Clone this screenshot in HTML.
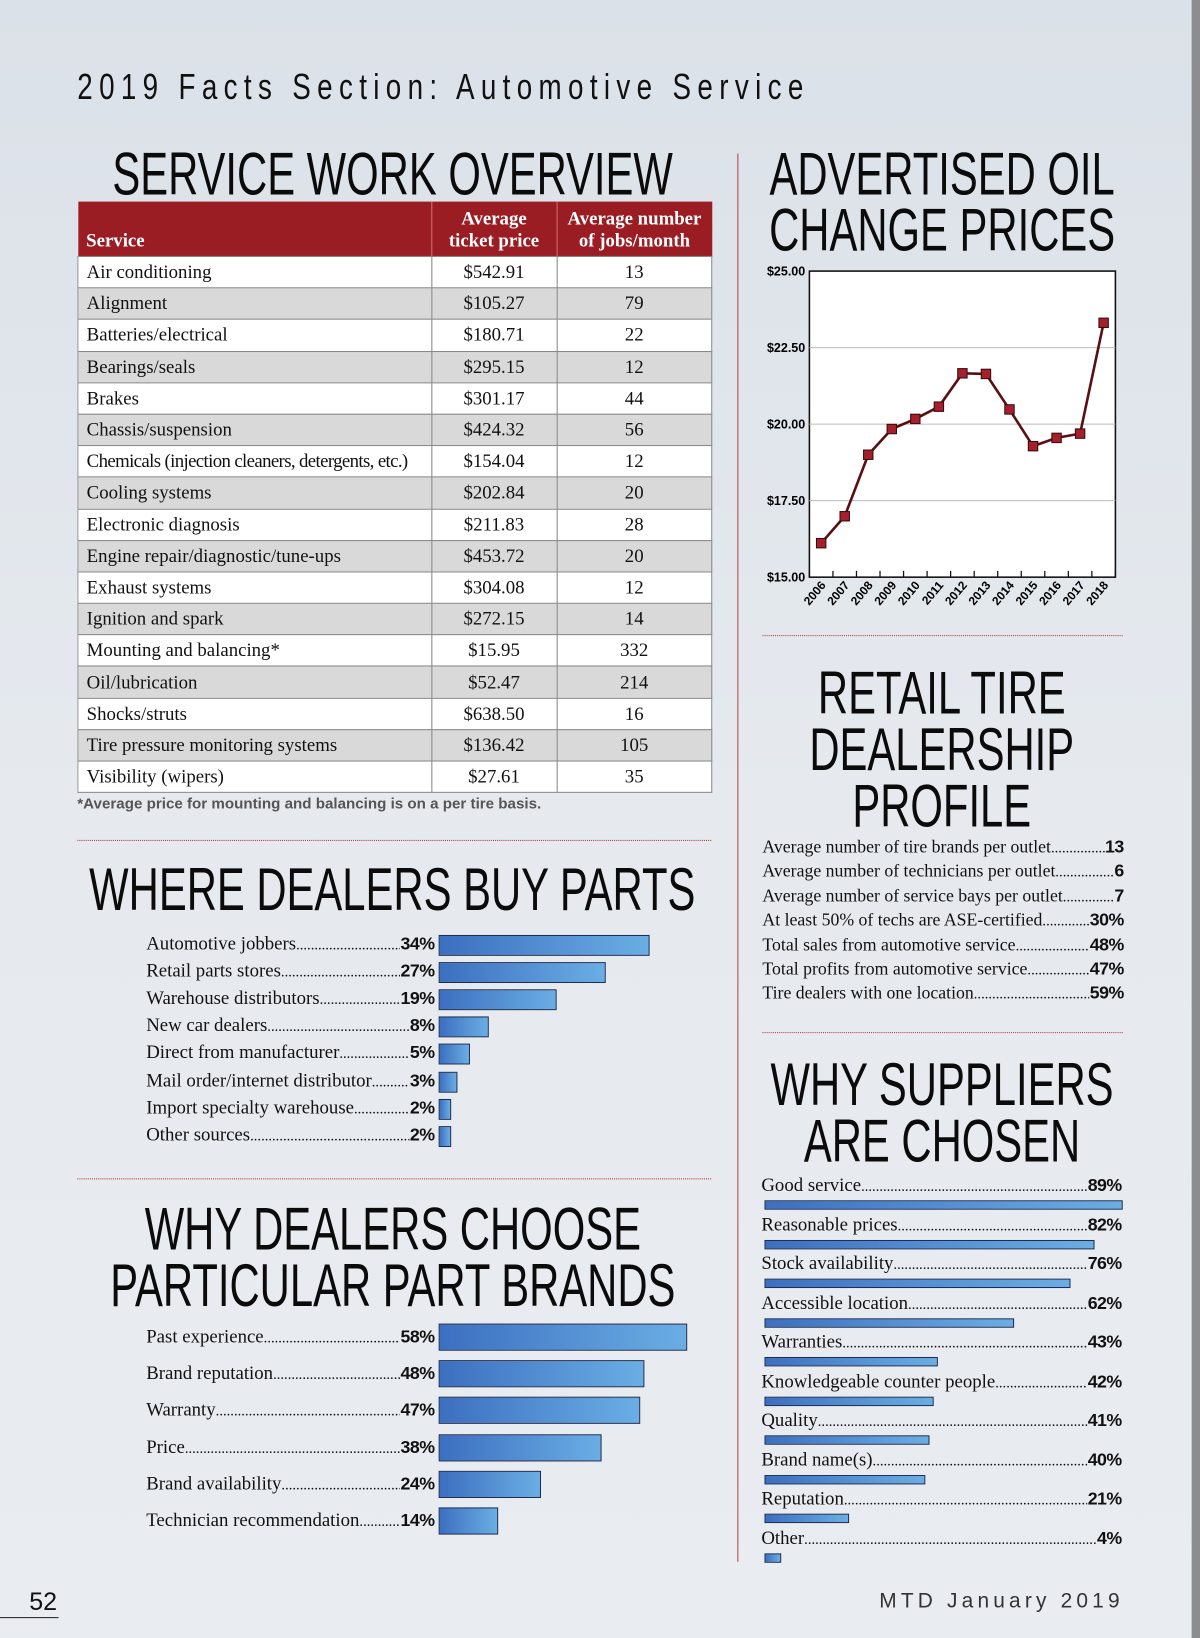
<!DOCTYPE html>
<html><head><meta charset="utf-8">
<style>
html,body{margin:0;padding:0;width:1200px;height:1638px;overflow:hidden;}
body{background:#dfe4ea;}
#page{position:absolute;left:0;top:0;width:1149px;height:1568px;transform:scale(1.04439,1.04464);transform-origin:0 0;
 background:linear-gradient(180deg,#dbe1e8 0%,#e6eaef 50%,#e9ecf0 100%);font-family:"Liberation Serif",serif;color:#111;}
.abs{position:absolute;}
.h{position:absolute;text-align:center;white-space:nowrap;}
.h span{display:inline-block;font-family:"Liberation Sans",sans-serif;font-size:58px;line-height:54px;color:#0b0b0b;transform:scaleX(0.69);transform-origin:center top;}
table{border-collapse:collapse;position:absolute;left:74px;top:193px;width:608px;font-size:18px;}
th{background:#9b1d24;color:#fff;font-weight:bold;font-size:18px;line-height:21px;padding:0 8px 4px;border-right:1px solid #c66;vertical-align:bottom;height:48px;}
td{border:1px solid #888;height:29.2px;padding:0 8px;line-height:29px;}
tr:nth-child(odd) td{background:#d9d9d9;}
tr:nth-child(even) td{background:#fff;}
td.c{text-align:center;}
.sep{position:absolute;border-top:1px dotted #a33;height:0;}
.row{position:absolute;display:flex;align-items:baseline;white-space:nowrap;}
.lead{flex:1;overflow:hidden;white-space:nowrap;font-size:14px;}
.val{font-family:"Liberation Sans",sans-serif;font-weight:bold;font-size:17px;letter-spacing:-0.5px;}
.bar{position:absolute;border:1.5px solid #1d2e55;background:linear-gradient(90deg,#3c6fc0,#6aaee4);box-sizing:border-box;}
</style></head><body>
<div id="page">
<div class="abs" style="left:1141px;top:0;width:8px;height:1568px;background:#8b8d90;"></div>
<div class="abs" style="left:74px;top:64px;font-family:'Liberation Sans',sans-serif;font-size:35px;letter-spacing:8px;white-space:nowrap;transform:scaleX(0.76);transform-origin:left top;">2019 Facts Section: Automotive Service</div>
<div class="abs" style="left:706px;top:147px;width:0;height:1348px;border-left:1px solid #b44;"></div>

<div class="h" style="left:-200px;width:1152px;top:140px;"><span>SERVICE WORK OVERVIEW</span></div>
<table>
<tr><th style="text-align:left;width:322px;">Service</th><th style="width:103px;">Average<br>ticket price</th><th style="border-right:none;">Average number<br>of jobs/month</th></tr>
<tr><td>Air conditioning</td><td class="c">$542.91</td><td class="c">13</td></tr>
<tr><td>Alignment</td><td class="c">$105.27</td><td class="c">79</td></tr>
<tr><td>Batteries/electrical</td><td class="c">$180.71</td><td class="c">22</td></tr>
<tr><td>Bearings/seals</td><td class="c">$295.15</td><td class="c">12</td></tr>
<tr><td>Brakes</td><td class="c">$301.17</td><td class="c">44</td></tr>
<tr><td>Chassis/suspension</td><td class="c">$424.32</td><td class="c">56</td></tr>
<tr><td style="letter-spacing:-0.6px;">Chemicals (injection cleaners, detergents, etc.)</td><td class="c">$154.04</td><td class="c">12</td></tr>
<tr><td>Cooling systems</td><td class="c">$202.84</td><td class="c">20</td></tr>
<tr><td>Electronic diagnosis</td><td class="c">$211.83</td><td class="c">28</td></tr>
<tr><td>Engine repair/diagnostic/tune-ups</td><td class="c">$453.72</td><td class="c">20</td></tr>
<tr><td>Exhaust systems</td><td class="c">$304.08</td><td class="c">12</td></tr>
<tr><td>Ignition and spark</td><td class="c">$272.15</td><td class="c">14</td></tr>
<tr><td>Mounting and balancing*</td><td class="c">$15.95</td><td class="c">332</td></tr>
<tr><td>Oil/lubrication</td><td class="c">$52.47</td><td class="c">214</td></tr>
<tr><td>Shocks/struts</td><td class="c">$638.50</td><td class="c">16</td></tr>
<tr><td>Tire pressure monitoring systems</td><td class="c">$136.42</td><td class="c">105</td></tr>
<tr><td>Visibility (wipers)</td><td class="c">$27.61</td><td class="c">35</td></tr>
</table>
<div class="abs" style="left:74px;top:762px;font-family:'Liberation Sans',sans-serif;font-weight:bold;font-size:14.5px;color:#555;">*Average price for mounting and balancing is on a per tire basis.</div>
<div class="sep" style="left:74px;top:804px;width:607px;"></div>

<div class="h" style="left:-200px;width:1152px;top:825px;"><span>WHERE DEALERS BUY PARTS</span></div>
<div id="parts"></div>
<div class="sep" style="left:74px;top:1128px;width:607px;"></div>

<div class="h" style="left:-200px;width:1152px;top:1150px;"><span>WHY DEALERS CHOOSE<br>PARTICULAR PART BRANDS</span></div>
<div id="brands"></div>

<div class="h" style="left:502px;width:800px;top:140px;"><span>ADVERTISED OIL<br>CHANGE PRICES</span></div>
<svg id="oil" class="abs" style="left:720px;top:245px;" width="370" height="350"></svg>
<div class="sep" style="left:730px;top:608px;width:345px;"></div>

<div class="h" style="left:502px;width:800px;top:637px;"><span>RETAIL TIRE<br>DEALERSHIP<br>PROFILE</span></div>
<div id="profile"></div>
<div class="sep" style="left:730px;top:988px;width:345px;"></div>

<div class="h" style="left:502px;width:800px;top:1012px;"><span>WHY SUPPLIERS<br>ARE CHOSEN</span></div>
<div id="suppliers"></div>

<div class="abs" style="left:28px;top:1520px;font-family:'Liberation Sans',sans-serif;font-size:24px;">52</div>
<div class="abs" style="left:0;top:1548px;width:56px;border-top:1px solid #222;"></div>
<div class="abs" style="left:820px;width:256px;text-align:right;top:1522px;font-family:'Liberation Sans',sans-serif;font-size:20px;letter-spacing:4px;color:#333;">MTD January 2019</div>
</div>
<script>
const DOTS='.'.repeat(200);
const partsLabels=["Automotive jobbers","Retail parts stores","Warehouse distributors","New car dealers","Direct from manufacturer","Mail order/internet distributor","Import specialty warehouse","Other sources"];
const partsValues=[34,27,19,8,5,3,2,2];
const brandLabels=["Past experience","Brand reputation","Warranty","Price","Brand availability","Technician recommendation"];
const brandValues=[58,48,47,38,24,14];
const supLabels=["Good service","Reasonable prices","Stock availability","Accessible location","Warranties","Knowledgeable counter people","Quality","Brand name(s)","Reputation","Other"];
const supValues=[89,82,76,62,43,42,41,40,21,4];
const profLabels=["Average number of tire brands per outlet","Average number of technicians per outlet","Average number of service bays per outlet","At least 50% of techs are ASE-certified","Total sales from automotive service","Total profits from automotive service","Tire dealers with one location"];
const profValues=["13","6","7","30%","48%","47%","59%"];
const years=["2006","2007","2008","2009","2010","2011","2012","2013","2014","2015","2016","2017","2018"];
const prices=[16.11,16.99,19.0,19.84,20.17,20.57,21.66,21.64,20.48,19.28,19.55,19.69,23.31];
const yTicks=[15,17.5,20,22.5,25];

function mk(tag,parent,css,text){const e=document.createElement(tag);if(css)e.style.cssText=css;if(text!==undefined)e.textContent=text;parent.appendChild(e);return e;}
function rowEl(parent,x,y,w,label,value,fs){
  const r=mk('div',parent,`left:${x}px;top:${y}px;width:${w}px;font-size:${fs}px;`);
  r.className='row';
  
  
  mk('span',r,'',label);
  const l=mk('span',r,'',DOTS);l.className='lead';
  const v=mk('span',r,'',value);v.className='val';
  return r;
}
(function(){const p=document.getElementById('parts');
 const x0=420,ppp=5.94,y0=894,step=26.1;
 partsLabels.forEach((lab,i)=>{const y=y0+i*step;
  rowEl(p,140,y-1,276,lab,partsValues[i]+'%',18);
  const b=mk('div',p,`left:${x0}px;top:${y+1}px;width:${partsValues[i]*ppp}px;height:20px;`);b.className='bar';
  
  
 });})();
(function(){const p=document.getElementById('brands');
 const x0=420,ppp=4.1,y0=1267,step=35.2;
 brandLabels.forEach((lab,i)=>{const y=y0+i*step;
  rowEl(p,140,y+2,276,lab,brandValues[i]+'%',18);
  const b=mk('div',p,`left:${x0}px;top:${y}px;width:${brandValues[i]*ppp}px;height:26px;`);b.className='bar';
  
  
 });})();
(function(){const p=document.getElementById('suppliers');
 const x0=732,ppp=3.85,y0=1124,step=37.5;
 supLabels.forEach((lab,i)=>{const y=y0+i*step;
  rowEl(p,729,y,345,lab,supValues[i]+'%',18);
  const b=mk('div',p,`left:${x0}px;top:${y+25}px;width:${Math.max(supValues[i]*ppp,16)}px;height:9px;border-width:1px;`);b.className='bar';
  
  
 });})();
(function(){const p=document.getElementById('profile');
 profLabels.forEach((lab,i)=>{rowEl(p,730,801+i*23.4,346,lab,profValues[i],17);});})();
(function(){const s=document.getElementById('oil'),NS='http://www.w3.org/2000/svg';
 const ox=720,oy=245,L=775-ox,R=1068-ox,T=259.5-oy,B=552.5-oy;
 const y=v=>B-(v-15)/10*(B-T);
 const band=(R-L)/years.length;const x=i=>L+band*(i+0.5);
 function el(t,a,txt){const e=document.createElementNS(NS,t);for(const k in a)e.setAttribute(k,a[k]);if(txt!==undefined)e.textContent=txt;s.appendChild(e);return e;}
 const bg=el('rect',{x:L,y:T,width:R-L,height:B-T,fill:'#fff',stroke:'#111','stroke-width':1.5});
 
 yTicks.forEach(v=>{
  if(v>15&&v<25){const g=el('line',{x1:L,x2:R,y1:y(v),y2:y(v),stroke:'#bbb','stroke-width':1});}
  const t=el('text',{x:L-4,y:y(v)+4,'text-anchor':'end','font-family':'Liberation Sans, sans-serif','font-weight':'bold','font-size':12},'$'+v.toFixed(2));
  
 });
 for(let i=0;i<=years.length;i++){const tk=el('line',{x1:L+band*i,x2:L+band*i,y1:B,y2:B-6,stroke:'#111','stroke-width':1.2});}
 years.forEach((yr,i)=>{const t=el('text',{x:0,y:0,transform:`translate(${x(i)+5},${B+8}) rotate(-50)`,'text-anchor':'end','font-family':'Liberation Sans, sans-serif','font-weight':'bold','font-size':11.5},yr);
  });
 const ln=el('polyline',{points:prices.map((v,i)=>x(i)+','+y(v)).join(' '),fill:'none',stroke:'#5a0f12','stroke-width':2.5});
 
 prices.forEach((v,i)=>{const m=el('rect',{x:x(i)-4.5,y:y(v)-4.5,width:9,height:9,fill:'#a3202c',stroke:'#3a0a0c','stroke-width':1});
  });
})();
</script>
</body></html>
